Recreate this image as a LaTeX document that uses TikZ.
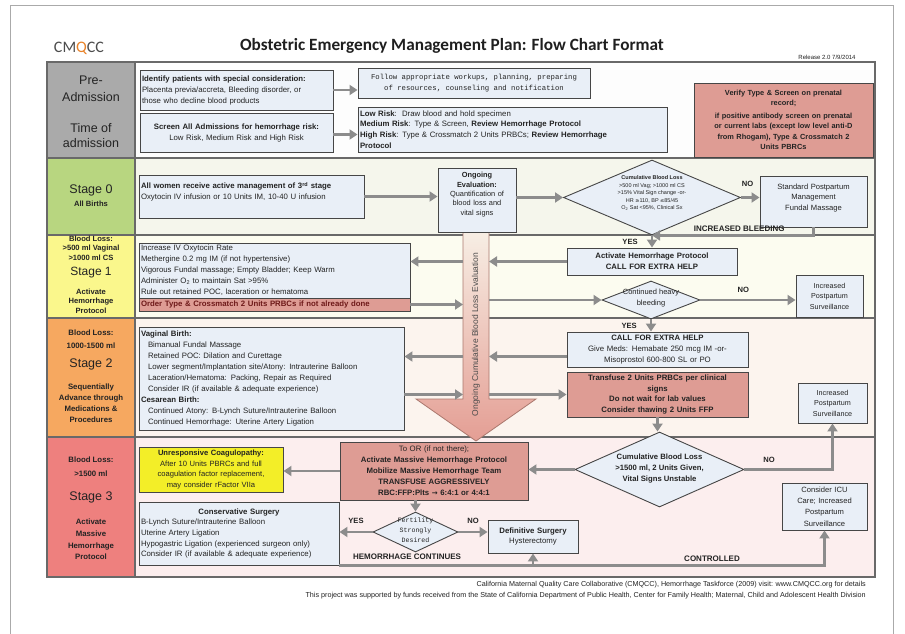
\documentclass[tikz,border=0pt]{standalone}
\usepackage{fontspec}
\setmainfont{Liberation Sans}
\newfontfamily\calib{Carlito}
\newfontfamily\monof{Liberation Mono}
\newfontfamily\dejav{DejaVu Sans}
\usetikzlibrary{shapes.geometric,arrows.meta}
\definecolor{boxblue}{RGB}{233,239,247}
\definecolor{bord}{RGB}{70,70,70}
\definecolor{redbox}{RGB}{222,156,148}
\definecolor{darkred}{RGB}{110,25,25}
\definecolor{ybox}{RGB}{243,238,40}
\definecolor{cgray}{RGB}{170,170,170}
\definecolor{cgreen}{RGB}{184,214,128}
\definecolor{cyellow}{RGB}{250,247,140}
\definecolor{corange}{RGB}{246,168,96}
\definecolor{cred}{RGB}{238,128,126}
\definecolor{bgpre}{RGB}{253,253,253}
\definecolor{bgzero}{RGB}{245,246,236}
\definecolor{bgone}{RGB}{252,252,240}
\definecolor{bgtwo}{RGB}{252,244,238}
\definecolor{bgthree}{RGB}{252,238,238}
\definecolor{arr}{RGB}{140,140,140}
\definecolor{tline}{RGB}{105,105,105}
\definecolor{txt}{RGB}{35,35,35}
\definecolor{bigtop}{RGB}{247,238,228}
\definecolor{bigbot}{RGB}{228,158,148}
\definecolor{bigedge}{RGB}{170,120,110}
\definecolor{qorange}{RGB}{232,130,40}
\definecolor{pageline}{RGB}{170,170,170}

\newcommand{\bodyf}{\fontsize{7.8}{11}\selectfont}
\newcommand{\colf}{\fontsize{7.6}{9.5}\selectfont\bfseries}
\newcommand{\bigf}{\fontsize{12.5}{15.5}\selectfont}
\newcommand{\dtxt}[2][0pt]{\makebox[0pt]{\smash{\raisebox{#1}{\begin{tabular}[c]{@{}c@{}}#2\end{tabular}}}}}

\tikzset{
  bx/.style={draw=bord, fill=boxblue, line width=0.9pt, inner sep=2pt, font=\bodyf, text=txt},
  rbx/.style={bx, fill=redbox},
  dia/.style={diamond, draw=bord, fill=boxblue, line width=0.9pt, inner sep=0pt, text=txt},
  conn/.style={draw=arr, line width=2.6pt, -{Triangle[length=8pt,width=10pt]}},
  yn/.style={font=\fontsize{7.6}{9}\selectfont\bfseries, text=txt, inner sep=0pt},
  colcell/.style={draw=tline, line width=1pt, minimum width=88pt, inner sep=0pt},
  coltxt/.style={align=center, text=txt, inner sep=0pt},
}

\begin{document}
\begin{tikzpicture}[x=1pt,y=-1pt]
\useasboundingbox (0,0) rectangle (905,634);
\fill[white] (0,0) rectangle (905,634);
\draw[pageline, line width=0.8pt] (10,5) rectangle (893,660);

% header
\node[font=\calib\fontsize{16}{18}\selectfont, text=black!70, inner sep=0pt] (logo) at (79,48) {CM{\color{qorange}Q}CC};
\node[font=\calib\bfseries\fontsize{17.2}{20}\selectfont, text=black!88, inner sep=0pt] (title) at (452,46) {Obstetric Emergency Management Plan: Flow Chart Format};
\node[font=\fontsize{6}{7}\selectfont, text=txt, inner sep=0pt] (release) at (827,57) {Release 2.0 7/9/2014};

% row backgrounds
\fill[bgpre] (135,62) rectangle (875,158);
\fill[bgzero] (135,158) rectangle (875,235);
\fill[bgone] (135,235) rectangle (875,318);
\fill[bgtwo] (135,318) rectangle (875,437);
\fill[bgthree] (135,437) rectangle (875,577);

% left column cells
\node[colcell, fill=cgray, minimum height=96pt] (cpre) at (91,110) {};
\node[colcell, fill=cgreen, minimum height=77pt] (czero) at (91,196.5) {};
\node[colcell, fill=cyellow, minimum height=83pt] (cone) at (91,276.5) {};
\node[colcell, fill=corange, minimum height=119pt] (ctwo) at (91,377.5) {};
\node[colcell, fill=cred, minimum height=140pt] (cthree) at (91,507) {};

% table lines
\foreach \yy in {158,235,318,437} \draw[tline, line width=1.4pt] (47,\yy) -- (875,\yy);
\draw[tline, line width=1.4pt] (47,62) rectangle (875,577);
\draw[tline, line width=1.2pt] (135,62) -- (135,577);

% column texts
\node[coltxt, font=\fontsize{12.5}{17}\selectfont] (tpre) at (91,89) {Pre-\\Admission};
\node[coltxt, font=\fontsize{12.5}{15.5}\selectfont] (tadm) at (91,135.5) {Time of\\admission};
\node[coltxt, font=\bigf] (tzeroa) at (91,190) {Stage 0};
\node[coltxt, font=\colf] (tzerob) at (91,203.5) {All Births};
\node[coltxt, font=\colf] (tonea) at (91,248) {Blood Loss:\\>500 ml Vaginal\\>1000 ml CS};
\node[coltxt, font=\fontsize{12}{14}\selectfont] (toneb) at (91,273) {Stage 1};
\node[coltxt, font=\fontsize{7.6}{9.5}\selectfont\bfseries] (tonec) at (91,301) {Activate\\Hemorrhage\\Protocol};
\node[coltxt, font=\fontsize{7.8}{13}\selectfont\bfseries] (ttwoa) at (91,339.5) {Blood Loss:\\1000-1500 ml};
\node[coltxt, font=\bigf] (ttwob) at (91,364) {Stage 2};
\node[coltxt, font=\fontsize{7.8}{11}\selectfont\bfseries] (ttwoc) at (91,403.5) {Sequentially\\Advance through\\Medications \&\\Procedures};
\node[coltxt, font=\fontsize{7.8}{14}\selectfont\bfseries] (tthreea) at (91,467) {Blood Loss:\\>1500 ml};
\node[coltxt, font=\bigf] (tthreeb) at (91,497) {Stage 3};
\node[coltxt, font=\fontsize{7.8}{11.6}\selectfont\bfseries] (tthreec) at (91,539.5) {Activate\\Massive\\Hemorrhage\\Protocol};

% big evaluation arrow
\coordinate (shaftL) at (463,0);
\coordinate (shaftR) at (489,0);
\shadedraw[top color=bigtop, bottom color=bigbot, draw=bigedge, line width=0.8pt]
  (463,232) -- (489,232) -- (489,399) -- (536,399) -- (476,441) -- (416,399) -- (463,399) -- cycle;
\node[rotate=90, font=\fontsize{8.5}{10}\selectfont, text=black!70, inner sep=0pt] (biglab) at (476,334.5) {Ongoing Cumulative Blood Loss Evaluation};

% pre-admission
\node[bx, minimum width=193pt, minimum height=40pt, text width=189pt, align=left] (ident) at (236.5,90)
  {\textbf{Identify patients with special consideration:}\\ Placenta previa/accreta, Bleeding disorder, or\\ those who decline blood products};
\node[bx, minimum width=232pt, minimum height=30pt, align=center, font=\monof\fontsize{7.3}{11}\selectfont] (follow) at (474,83)
  {Follow appropriate workups, planning, preparing\\ of resources, counseling and notification};
\node[bx, minimum width=193pt, minimum height=39pt, text width=189pt, align=center] (screen) at (236.5,132.5)
  {\textbf{Screen All Admissions for hemorrhage risk:}\\ Low Risk, Medium Risk and High Risk};
\node[bx, minimum width=309pt, minimum height=45pt, text width=305pt, align=left, font=\fontsize{7.8}{10.7}\selectfont] (lowrisk) at (512.5,129.5)
  {\textbf{Low Risk}:\ \ Draw blood and hold specimen\\ \textbf{Medium Risk}: Type \& Screen, \textbf{Review Hemorrhage Protocol}\\ \textbf{High Risk}: Type \& Crossmatch 2 Units PRBCs; \textbf{Review Hemorrhage}\\ \textbf{Protocol}};
\node[rbx, minimum width=179pt, minimum height=74pt, text width=175pt, align=center, font=\fontsize{7.4}{10.6}\selectfont\bfseries] (verify) at (783.5,120)
  {Verify Type \& Screen on prenatal\\ record;\\[1.5pt] if positive antibody screen on prenatal\\ or current labs (except low level anti-D\\ from Rhogam), Type \& Crossmatch 2\\ Units PBRCs};

% stage 0
\node[bx, minimum width=225pt, minimum height=43pt, text width=221pt, align=left] (allw) at (251.5,196.5)
  {\textbf{All women receive active management of 3\textsuperscript{rd} stage}\\ Oxytocin IV infusion or 10 Units IM, 10-40 U infusion\\ \mbox{}};
\node[bx, minimum width=78pt, minimum height=64pt, text width=76pt, align=center, inner sep=1pt, font=\fontsize{7.4}{9.4}\selectfont] (ongo) at (477,200)
  {\textbf{Ongoing}\\ \textbf{Evaluation:}\\ Quantification of\\ blood loss and\\ vital signs\\[3pt]\mbox{}};
\node[dia, minimum width=177pt, minimum height=75pt, font=\fontsize{5.5}{7.4}\selectfont] (dzero) at (652,197.5)
  {\dtxt[3pt]{\textbf{Cumulative Blood Loss}\\ >500 ml Vag; >1000 ml CS\\ >15\% Vital Sign change -or-\\ HR {\dejav\fontsize{5}{7}\selectfont≥}110, BP {\dejav\fontsize{5}{7}\selectfont≤}85/45\\ O\textsubscript{2} Sat <95\%, Clinical Sx}};
\node[bx, minimum width=107pt, minimum height=51pt, text width=103pt, align=center, font=\fontsize{7.6}{10.8}\selectfont] (stdpp) at (813.5,201.5)
  {Standard Postpartum\\ Management\\ Fundal Massage\\[-2pt]\mbox{}};

% stage 1
\node[bx, minimum width=170pt, minimum height=27pt, text width=166pt, align=center, font=\fontsize{7.8}{10.7}\selectfont\bfseries] (act) at (652,261.5)
  {Activate Hemorrhage Protocol\\ CALL FOR EXTRA HELP};
\node[bx, minimum width=271pt, minimum height=55pt, text width=267pt, align=left] (sonebox) at (274.5,270.5)
  {Increase IV Oxytocin Rate\\ Methergine 0.2 mg IM (if not hypertensive)\\ Vigorous Fundal massage; Empty Bladder; Keep Warm\\ Administer O\textsubscript{2} to maintain Sat >95\%\\ Rule out retained POC, laceration or hematoma};
\node[rbx, minimum width=271pt, minimum height=13pt, text width=267pt, align=left, inner ysep=0pt, text=darkred, font=\fontsize{7.8}{9}\selectfont\bfseries] (sonered) at (274.5,304.5)
  {Order Type \& Crossmatch 2 Units PRBCs if not already done};
\node[dia, minimum width=98pt, minimum height=38pt, font=\fontsize{7.5}{11}\selectfont] (done) at (651,300)
  {\dtxt{Continued heavy\\ bleeding}};
\node[bx, minimum width=67pt, minimum height=42pt, text width=65pt, inner sep=1pt, align=center, font=\fontsize{7.2}{10.5}\selectfont] (ipsone) at (829.5,296)
  {Increased\\ Postpartum\\ Surveillance};

% stage 2
\node[bx, minimum width=181pt, minimum height=35pt, text width=177pt, align=center, font=\fontsize{7.8}{10.8}\selectfont] (call) at (657.5,349.5)
  {\textbf{CALL FOR EXTRA HELP}\\ Give Meds: Hemabate 250 mcg IM -or-\\ Misoprostol 600-800 SL or PO};
\node[rbx, minimum width=181pt, minimum height=45pt, text width=177pt, align=center, font=\fontsize{7.8}{10.6}\selectfont\bfseries] (trans) at (657.5,394.5)
  {Transfuse 2 Units PRBCs per clinical\\ signs\\ Do not wait for lab values\\ Consider thawing 2 Units FFP};
\node[bx, minimum width=265pt, minimum height=103pt, text width=261pt, align=left] (stwobox) at (271.5,378.5)
  {\textbf{Vaginal Birth:}\\
   \hspace*{7pt}Bimanual Fundal Massage\\
   \hspace*{7pt}Retained POC: Dilation and Curettage\\
   \hspace*{7pt}Lower segment/Implantation site/Atony: Intrauterine Balloon\\
   \hspace*{7pt}Laceration/Hematoma: Packing, Repair as Required\\
   \hspace*{7pt}Consider IR (if available \& adequate experience)\\
   \textbf{Cesarean Birth:}\\
   \hspace*{7pt}Continued Atony: B-Lynch Suture/Intrauterine Balloon\\
   \hspace*{7pt}Continued Hemorrhage: Uterine Artery Ligation};
\node[bx, minimum width=69pt, minimum height=40pt, text width=67pt, inner sep=1pt, align=center, font=\fontsize{7.2}{10.5}\selectfont] (ipstwo) at (832.5,403)
  {Increased\\ Postpartum\\ Surveillance};

% stage 3
\node[dia, minimum width=169pt, minimum height=75pt, font=\fontsize{7.7}{11}\selectfont\bfseries] (dthree) at (659.5,469.5)
  {\dtxt[-1pt]{Cumulative Blood Loss\\ >1500 ml, 2 Units Given,\\ Vital Signs Unstable}};
\node[rbx, minimum width=188pt, minimum height=58pt, text width=184pt, align=center, font=\fontsize{7.8}{11}\selectfont] (toor) at (434,471)
  {To OR (if not there);\\ \textbf{Activate Massive Hemorrhage Protocol}\\ \textbf{Mobilize Massive Hemorrhage Team}\\ \textbf{TRANSFUSE AGGRESSIVELY}\\ \textbf{RBC:FFP:Plts {\dejav\fontsize{7}{9}\selectfont→} 6:4:1 or 4:4:1}};
\node[bx, fill=ybox, minimum width=144pt, minimum height=45pt, text width=140pt, align=center, font=\fontsize{7.6}{10.5}\selectfont] (coag) at (211,469.5)
  {\textbf{Unresponsive Coagulopathy:}\\ After 10 Units PBRCs and full\\ coagulation factor replacement,\\ may consider rFactor VIIa};
\node[bx, minimum width=200pt, minimum height=63pt, text width=196pt, align=left, font=\fontsize{7.8}{10.7}\selectfont] (cons) at (239,533.5)
  {\makebox[196pt][c]{\textbf{Conservative Surgery}}\\ B-Lynch Suture/Intrauterine Balloon\\ Uterine Artery Ligation\\ Hypogastric Ligation (experienced surgeon only)\\ Consider IR (if available \& adequate experience)};
\node[dia, minimum width=85pt, minimum height=40pt, font=\monof\fontsize{6.6}{10.3}\selectfont] (fert) at (415.5,532)
  {\dtxt{Fertility\\ Strongly\\ Desired}};
\node[bx, minimum width=90pt, minimum height=33pt, text width=86pt, align=center, font=\fontsize{7.8}{10.5}\selectfont] (defin) at (533,536.5)
  {\textbf{Definitive Surgery}\\ Hysterectomy};
\node[bx, minimum width=85pt, minimum height=47pt, text width=83pt, inner sep=1pt, align=center, font=\fontsize{7.6}{11.2}\selectfont] (icu) at (824.5,506.5)
  {Consider ICU\\ Care; Increased\\ Postpartum\\ Surveillance};

% connectors
\draw[conn] (ident.east) -- (ident.east -| follow.west);
\draw[conn] ([yshift=-2pt]screen.east) -- ([yshift=-2pt]screen.east -| lowrisk.west);
\draw[conn] (allw.east) -- (allw.east -| ongo.west);
\draw[conn] (ongo.east |- dzero.west) -- (dzero.west);
\draw[conn] (dzero.east) -- (dzero.east -| stdpp.west) node[yn, pos=0.35, above=10pt] {NO};
\draw[conn] (stdpp.south) |- (dzero.south) node[yn, pos=0.73, above=3pt, font=\fontsize{8}{9}\selectfont\bfseries] {INCREASED BLEEDING};
\draw[conn] (dzero.south) -- (act.north) node[yn, midway, left=13pt] {YES};
\draw[conn] (act.west) -- (act.west -| shaftR);
\draw[conn] (act.west -| shaftL) -- (act.west -| sonebox.east);
\draw[conn] (sonered.east) -- (sonered.east -| shaftL);
\draw[conn] (shaftR |- done.west) -- (done.west);
\draw[conn] (done.east) -- (done.east -| ipsone.west) node[yn, pos=0.45, above=6pt] {NO};
\draw[conn] (done.south) -- (done.south |- call.north) node[yn, midway, left=13pt] {YES};
\coordinate (callw) at ([yshift=-7pt]call.west);
\draw[conn] (callw) -- (callw -| shaftR);
\draw[conn] (callw -| shaftL) -- (callw -| stwobox.east);
\draw[conn] (stwobox.east |- trans.west) -- (shaftL |- trans.west);
\draw[conn] (shaftR |- trans.west) -- (trans.west);
\draw[conn] (trans.south) -- (trans.south |- dthree.north);
\draw[conn] (dthree.west) -- (dthree.west -| toor.east);
\draw[conn] (dthree.east) -| (ipstwo.south) node[yn, pos=0.14, above=6pt] {NO};
\draw[conn] (toor.west) -- (toor.west -| coag.east);
\draw[conn] (fert.north |- toor.south) -- (fert.north);
\draw[conn] (fert.west) -- (fert.west -| cons.east) node[yn, midway, above=7pt] {YES};
\draw[conn] (fert.east) -- (fert.east -| defin.west) node[yn, midway, above=7pt] {NO};
\draw[conn] (cons.south east) -| (icu.south);
\draw[conn] (cons.south east -| defin.south) -- (defin.south);
\node[yn, font=\fontsize{8}{9}\selectfont\bfseries] (hemc) at (407,557) {HEMORRHAGE CONTINUES};
\node[yn, font=\fontsize{8}{9}\selectfont\bfseries] (ctrl) at (712,558.5) {CONTROLLED};

% footer
\node[anchor=east, inner sep=0pt, text=txt, font=\fontsize{7.2}{9}\selectfont] (foota) at (866,585) {California Maternal Quality Care Collaborative (CMQCC), Hemorrhage Taskforce (2009) visit: www.CMQCC.org for details};
\node[anchor=east, inner sep=0pt, text=txt, font=\fontsize{7.2}{9}\selectfont] (footb) at (866,596) {This project was supported by funds received from the State of California Department of Public Health, Center for Family Health; Maternal, Child and Adolescent Health Division};
\end{tikzpicture}
\end{document}
